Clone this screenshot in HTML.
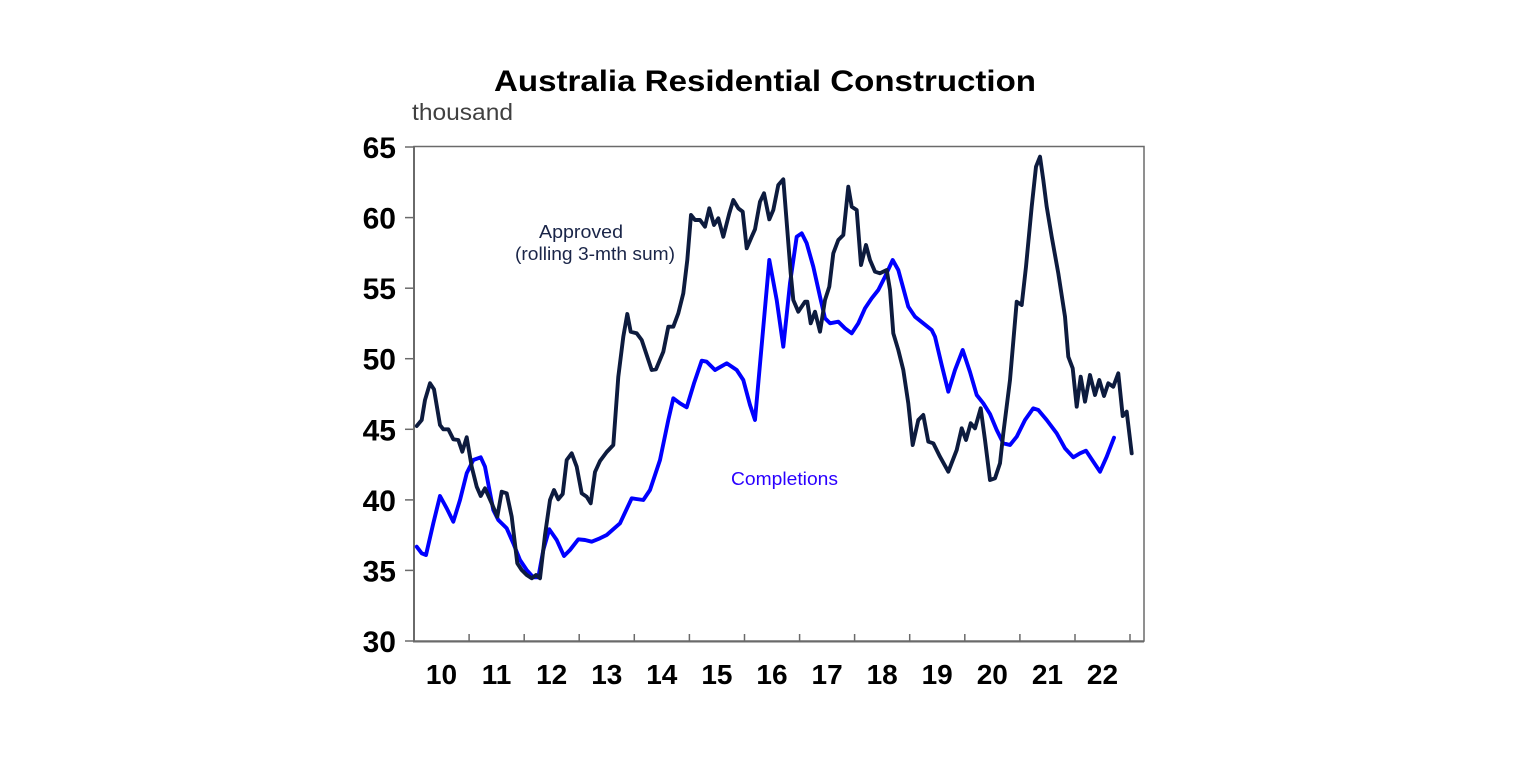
<!DOCTYPE html>
<html><head><meta charset="utf-8"><style>
html,body{margin:0;padding:0;background:#fff;}
svg{display:block;}
</style></head><body>
<svg width="1536" height="775" viewBox="0 0 1536 775" xmlns="http://www.w3.org/2000/svg" font-family="'Liberation Sans', Arial, sans-serif">
<rect width="1536" height="775" fill="#fff"/>
<text x="494" y="91" font-size="30" font-weight="bold" fill="#000" textLength="542" lengthAdjust="spacingAndGlyphs">Australia Residential Construction</text>
<text x="412" y="120" font-size="23" fill="#404040" textLength="101" lengthAdjust="spacingAndGlyphs">thousand</text>
<!-- plot box -->
<rect x="414" y="146.5" width="730" height="494.5" fill="none" stroke="#6a6a6a" stroke-width="1.5"/>
<line x1="414" y1="146" x2="414" y2="642" stroke="#6a6a6a" stroke-width="2"/>
<line x1="413" y1="641.5" x2="1144" y2="641.5" stroke="#6a6a6a" stroke-width="2"/>
<g stroke="#6a6a6a" stroke-width="1.5">
<line x1="405" y1="147" x2="414" y2="147"/>
<line x1="405" y1="217.6" x2="414" y2="217.6"/>
<line x1="405" y1="288.2" x2="414" y2="288.2"/>
<line x1="405" y1="358.7" x2="414" y2="358.7"/>
<line x1="405" y1="429.3" x2="414" y2="429.3"/>
<line x1="405" y1="499.9" x2="414" y2="499.9"/>
<line x1="405" y1="570.4" x2="414" y2="570.4"/>
<line x1="405" y1="641" x2="414" y2="641"/>
<line x1="469.1" y1="634" x2="469.1" y2="641"/>
<line x1="524.2" y1="634" x2="524.2" y2="641"/>
<line x1="579.2" y1="634" x2="579.2" y2="641"/>
<line x1="634.3" y1="634" x2="634.3" y2="641"/>
<line x1="689.4" y1="634" x2="689.4" y2="641"/>
<line x1="744.5" y1="634" x2="744.5" y2="641"/>
<line x1="799.6" y1="634" x2="799.6" y2="641"/>
<line x1="854.6" y1="634" x2="854.6" y2="641"/>
<line x1="909.7" y1="634" x2="909.7" y2="641"/>
<line x1="964.8" y1="634" x2="964.8" y2="641"/>
<line x1="1019.9" y1="634" x2="1019.9" y2="641"/>
<line x1="1075" y1="634" x2="1075" y2="641"/>
<line x1="1130" y1="634" x2="1130" y2="641"/>
</g>
<g font-size="30" font-weight="bold" fill="#000" text-anchor="end">
<text x="396" y="158">65</text>
<text x="396" y="228.6">60</text>
<text x="396" y="299.2">55</text>
<text x="396" y="369.7">50</text>
<text x="396" y="440.3">45</text>
<text x="396" y="510.9">40</text>
<text x="396" y="581.4">35</text>
<text x="396" y="652">30</text>
</g>
<g font-size="28" font-weight="bold" fill="#000" text-anchor="middle">
<text x="441.5" y="684">10</text>
<text x="496.6" y="684">11</text>
<text x="551.7" y="684">12</text>
<text x="606.8" y="684">13</text>
<text x="661.8" y="684">14</text>
<text x="716.9" y="684">15</text>
<text x="772" y="684">16</text>
<text x="827.1" y="684">17</text>
<text x="882.2" y="684">18</text>
<text x="937.2" y="684">19</text>
<text x="992.3" y="684">20</text>
<text x="1047.4" y="684">21</text>
<text x="1102.5" y="684">22</text>
</g>
<text x="539" y="238" font-size="18" fill="#1a2548" textLength="84" lengthAdjust="spacingAndGlyphs">Approved</text>
<text x="515" y="260" font-size="18" fill="#1a2548" textLength="160" lengthAdjust="spacingAndGlyphs">(rolling 3-mth sum)</text>
<text x="731" y="485" font-size="18" fill="#2a00ff" textLength="107" lengthAdjust="spacingAndGlyphs">Completions</text>
<polyline fill="none" stroke="#0000ff" stroke-width="3.9" stroke-linejoin="round" stroke-linecap="round" points="
416.7,546.7 421.7,553.3 426,555 433.3,523.3 440,496 446.7,508.3 453.3,521.7 460,500 466.7,473.3 473.3,460 480.7,457.3 485,466.7 493.3,510 498.3,520 506.7,528.3 513.3,543.3 520,560 526.7,570 533.3,577.3 538.3,577.3 543.3,550 549.3,529.3 556.7,540 564,556 570,550 578.3,539.3 585,540 591.7,541.7 600,538.3 606.7,535 620,523.3 631.7,498.3 643.3,500 650,490 660,460 668.3,420 673.3,398.3 680,403.3 686.7,407.3 694,383.3 701.7,360.7 706.7,361.7 715,370 726.7,363.3 736.7,370 743.3,380 750,405 755,420 769.3,260 776.7,300 783.3,346.7 790,283.3 796.7,236.7 801.7,233.3 806.7,243.3 813.3,266.7 820,296.7 825,318.3 830,323.3 838.3,321.7 845,328.3 851.7,333.3 858.3,323.3 865,308.3 871.7,298.3 878.3,290 885,276.7 892.7,260 898.3,270 903.3,288.3 908.3,306.7 915,316.7 923.3,323.3 931.7,330 935,336.7 941.7,365 948.3,391.7 955,370 962.7,350 970,372 976.7,395 983.3,403.3 990,414 996.7,430 1003.3,443.3 1010,445 1016.7,436.7 1025,420 1033.3,408.3 1038.3,410 1046.7,420 1056.7,433.3 1065,448.3 1073.3,457.3 1080,453.3 1086,450.7 1093.3,461.7 1100,471.7 1106.7,456.7 1114,437.7"/>
<polyline fill="none" stroke="#0d1b3e" stroke-width="3.9" stroke-linejoin="round" stroke-linecap="round" points="
416.7,426 421.7,420 425,400 430,383.3 434,389.3 440,425 443.3,429.3 448.3,429.3 453.3,439.3 458.3,440 462.3,451.7 466.7,437.3 471.7,466.7 476.7,486.7 480.7,496 485,488.3 491.7,503.3 497.3,516.7 501.7,491.7 506.7,493.3 511.7,516.7 517.3,563.3 521.7,570 526.7,575 531.7,578.3 536,575 540,578.3 545,535 550,500 554,490 558.3,499.3 562.7,494 566.7,460 571.7,453.3 576.7,466.7 581.7,493.3 586.7,496.7 590.7,503.3 595,472 600,461 606.7,452 613.3,445 618.3,376.7 623.3,336.7 627.3,314 630.7,331.7 636.7,333.3 641.7,340 646.7,355 651.7,370 656,369.3 663.3,351.7 668.3,326.7 673.3,326.7 678.3,313.3 683.3,293.3 687.3,260 691,215 695,220 700,220 705,226.7 709.3,208.3 714,225 718.3,218.3 723.3,236.7 729.3,213.3 733.3,200 738.3,208.3 742.7,211.7 746.7,248.3 751.7,236.7 755,229.3 760,201.7 764,193.3 769.3,219.3 773.3,210 778.3,185 783.3,179.3 787.3,230 790.7,273.3 793.3,300 798.3,311.7 805,301.7 807.3,301.7 810.7,323.3 815,311.7 820,331.7 825,300 829.3,286.7 833.3,253.3 838.3,240 843.3,235 848.3,186.7 851.7,206.7 856.7,210 861,265 866,245 870,260 875,271.7 880,273.3 886.7,270 890,290 893.3,333.3 898.3,350 903.3,370 908.3,403.3 912.7,445 918.3,420 923.3,415 928.3,441.7 933.3,443.3 940,456.7 948.3,471.7 956.7,450 961.7,428.3 966,440 970.7,423.3 975,428.3 980.7,408.3 985,440 990,480 995,478.3 1000,463.3 1003.3,433.3 1010,380 1016.7,301.7 1021.7,305 1026,266.7 1031.7,206.7 1036,166.7 1040,156.7 1043.3,180 1046.7,206.7 1051.7,236.7 1058.3,273.3 1065,316.7 1068.3,356.7 1072.7,368.3 1076.7,406.7 1080.7,376.7 1085,401.7 1090,375 1095,395 1099.3,380 1104,396 1108.3,383.3 1113.3,386.7 1118.3,373.3 1122.7,416 1126.7,411.7 1131.7,453.3"/>
</svg>
</body></html>
